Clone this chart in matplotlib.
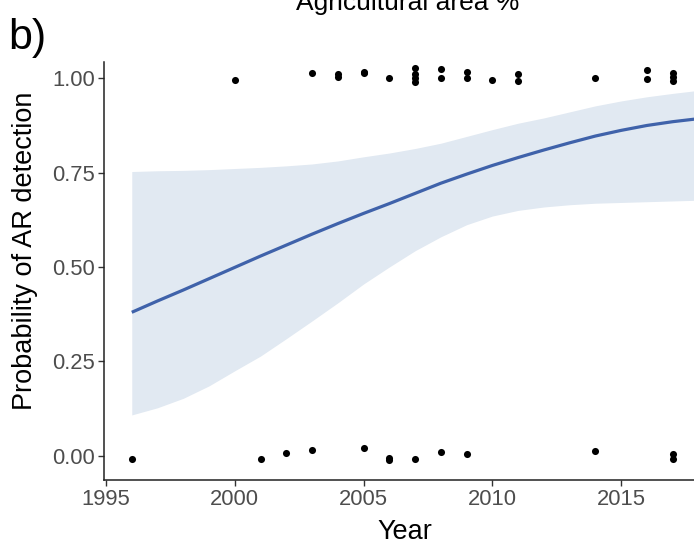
import matplotlib
matplotlib.use("Agg")
import matplotlib.pyplot as plt

plt.rcParams['font.family'] = ['Liberation Sans', 'DejaVu Sans']

# Observed detections (jittered around 0 and 1)
years_pos = [2000, 2003, 2004, 2004, 2005, 2005, 2006, 2007, 2007, 2007, 2007,
             2008, 2008, 2009, 2009, 2010, 2011, 2011, 2014, 2016, 2016,
             2017, 2017, 2017]
vals_pos = [0.995, 1.014, 1.011, 1.003, 1.018, 1.013, 1.001, 1.026, 1.012, 1.000, 0.990,
            1.024, 1.000, 1.018, 1.002, 0.996, 1.012, 0.992, 1.001, 1.022, 0.998,
            1.015, 1.004, 0.994]
years_neg = [1996, 2001, 2002, 2003, 2005, 2006, 2006, 2007, 2008, 2009, 2014, 2017, 2017]
vals_neg = [-0.009, -0.009, 0.006, 0.016, 0.020, -0.005, -0.011, -0.010, 0.011, 0.004,
            0.012, 0.004, -0.008]

# Fitted logistic curve and confidence band
fit_years = [1996, 1997, 1998, 1999, 2000, 2001, 2002, 2003, 2004, 2005, 2006, 2007,
             2008, 2009, 2010, 2011, 2012, 2013, 2014, 2015, 2016, 2017, 2018]
fit_mean = [0.380, 0.410, 0.439, 0.469, 0.499, 0.529, 0.558, 0.587, 0.615, 0.642, 0.668, 0.695,
            0.722, 0.746, 0.769, 0.790, 0.810, 0.829, 0.847, 0.862, 0.875, 0.885, 0.893]
fit_low = [0.108, 0.127, 0.152, 0.185, 0.225, 0.264, 0.310, 0.357, 0.405, 0.455, 0.500, 0.543,
           0.580, 0.612, 0.635, 0.650, 0.659, 0.665, 0.669, 0.671, 0.673, 0.675, 0.677]
fit_high = [0.753, 0.755, 0.756, 0.758, 0.761, 0.764, 0.768, 0.773, 0.781, 0.792, 0.802, 0.814,
            0.828, 0.846, 0.864, 0.881, 0.895, 0.911, 0.927, 0.940, 0.951, 0.960, 0.968]

x_ticks = [1995, 2000, 2005, 2010, 2015]
y_ticks = [0.00, 0.25, 0.50, 0.75, 1.00]
y_ticklabels = ["0.00", "0.25", "0.50", "0.75", "1.00"]

W, H = 694, 548
fig = plt.figure(figsize=(W / 100, H / 100), dpi=100)
left_px, right_px, bottom_px, top_px = 103.7, 694, 480, 62.3
ax = fig.add_axes([left_px / W, 1 - bottom_px / H, (right_px - left_px) / W, (bottom_px - top_px) / H])

ax.fill_between(fit_years, fit_low, fit_high, color='#E1E9F2', linewidth=0, zorder=1)
ax.plot(fit_years, fit_mean, color='#3F62AA', linewidth=2.3, zorder=2, solid_capstyle='butt')
ax.scatter(years_pos, vals_pos, s=26, color='black', linewidths=0, zorder=3)
ax.scatter(years_neg, vals_neg, s=26, color='black', linewidths=0, zorder=3)

ax.set_xlim(1994.91, 2017.83)
ax.set_ylim(-0.0644, 1.0424)
ax.set_xticks(x_ticks)
ax.set_yticks(y_ticks)
ax.set_yticklabels(y_ticklabels)

for s in ['top', 'right']:
    ax.spines[s].set_visible(False)
for s in ['left', 'bottom']:
    ax.spines[s].set_color('#222222')
    ax.spines[s].set_linewidth(1.1)
ax.tick_params(axis='both', length=4, width=1.0, color='#333333',
               labelsize=15.8, labelcolor='#4D4D4D', pad=2.5)

fig.text(25 / W, 1 - 251 / H, 'Probability of AR detection', rotation=90,
         ha='center', va='center', fontsize=19.5, color='black')
fig.text(405 / W, 1 - 539 / H, 'Year', ha='center', va='baseline', fontsize=19.5, color='black')
fig.text(408 / W, 1 - 10 / H, 'Agricultural area %', ha='center', va='baseline',
         fontsize=19, color='black')
fig.text(8 / W, 1 - 49 / H, 'b)', ha='left', va='baseline', fontsize=31, color='black')

fig.savefig('out.png', dpi=100)
